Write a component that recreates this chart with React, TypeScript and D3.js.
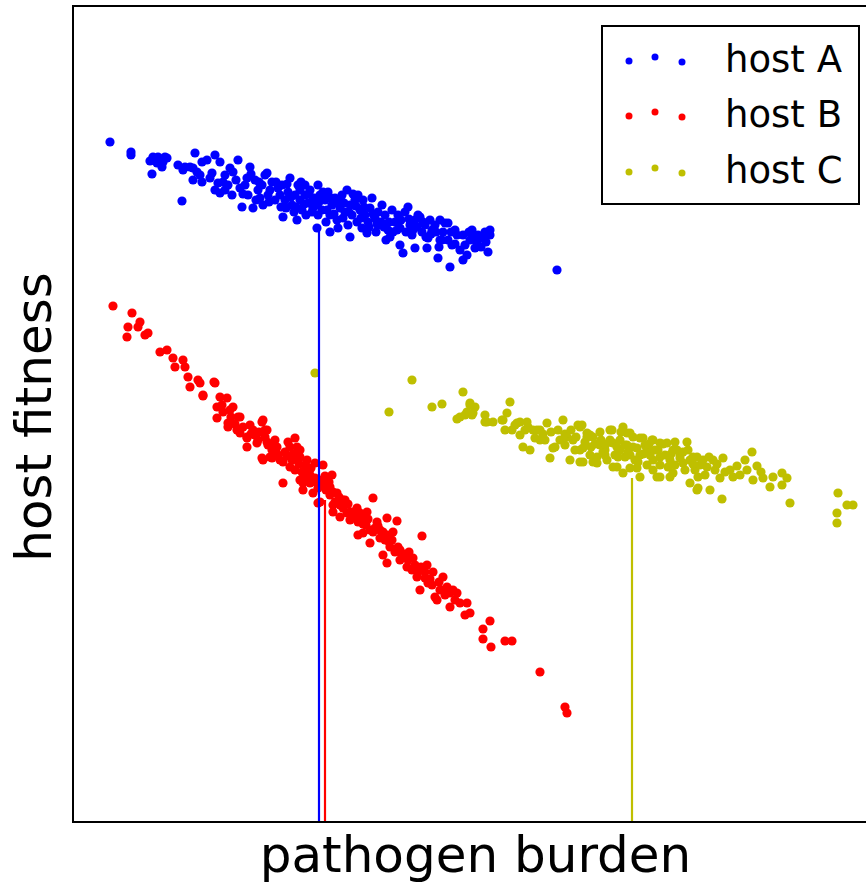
import React from "react";
import * as d3 from "d3";

// pathogen burden (arbitrary units), host fitness (arbitrary units)
const hostA: [number, number][] = [
  [37,680],[58,670],[58,667],[79,648],[80,665],[82,662],[85,665],[87,663],[92,665],[94,664],[84,659],[89,655],[77,661],[90,660],
  [105,657],[110,652],[112,655],[117,655],[120,654],[122,669],[109,621],[120,642],[124,650],[127,647],
  [129,660],[134,662],[142,667],[147,660],[129,640],[139,649],[142,632],[147,629],[137,644],[152,647],[157,654],[165,662],[155,637],[159,627],[163,642],[152,632],[167,634],[145,639],
  [169,615],[172,637],[177,655],[175,627],[180,614],[182,642],[185,632],[187,624],[189,637],[192,647],[194,649],[195,627],[197,632],[199,640],[202,622],[205,634],[207,627],[183,622],[190,617],[174,644],
  [210,605],[209,637],[212,622],[215,630],[217,644],[219,617],[222,627],[224,602],[225,637],[227,622],[229,612],[232,637],[232,627],[235,619],[237,632],[239,610],[241,624],[243,617],[244,594],[245,637],[245,607],[247,627],[213,614],[221,610],[227,632],[233,607],[238,620],
  [249,612],[252,622],[255,630],[257,590],[257,607],[259,617],[262,624],[264,602],[267,614],[269,627],[272,610],[274,632],[275,597],[277,585],[277,617],[279,607],[282,622],[284,600],[287,612],[253,600],[265,594],[271,619],[285,627],
  [290,622],[292,607],[294,589],[295,600],[297,614],[299,624],[302,604],[305,610],[307,597],[309,617],[312,607],[315,592],[317,585],[319,612],[322,600],[325,607],[327,577],[327,594],[330,569],[289,594],[303,590],[313,582],
  [332,610],[335,615],[337,597],[339,587],[342,574],[342,602],[345,607],[347,605],[349,590],[352,597],[354,574],[355,584],[357,602],[359,592],[362,597],[365,564],[367,602],[367,582],[333,590],
  [369,582],[372,599],[375,599],[375,582],[377,555],[379,577],[382,592],[384,587],[387,572],[390,587],[390,562],[394,567],[397,582],[399,592],[399,585],[402,574],[405,587],[410,584],[412,590],[415,570],[417,592],[417,587],
  [150,640],[160,650],[170,628],[178,648],[186,640],[196,620],[203,640],[208,615],[214,638],[218,625],[223,615],[228,640],[231,618],[236,628],[240,614],[246,620],[250,630],[254,612],[258,624],[261,608],[266,620],[270,604],[276,610],[280,628],[283,616],[288,604],[291,615],[296,595],[300,608],[304,598],[308,600],[311,595],[316,600],[320,590],[324,592],[328,602],[336,603],[340,592],[344,595],[350,600],[353,585],[358,588],[363,590],[366,575],[370,590],[378,590],[382,578],[392,577],[396,590],[404,580],[408,575],[413,580],
  [484,552],
];

const hostB: [number, number][] = [
  [40,516],[59,509],[67,500],[65,495],[55,495],[54,485],[72,487],[75,489],[87,470],[94,472],[100,464],[102,455],[110,462],[112,455],
  [115,445],[117,435],[125,442],[130,426],[141,440],[127,439],[142,439],[130,427],[147,425],[154,424],[144,415],[149,417],[157,412],[165,405],[144,404],[155,395],[155,399],[160,415],[167,405],
  [164,392],[174,385],[174,375],[184,379],[190,402],[194,392],[202,382],[190,362],[199,364],[210,339],[217,375],[222,384],[225,365],[234,345],[230,332],
  [167,389],[174,384],[180,392],[189,400],[192,392],[194,380],[189,364],[197,365],[204,375],[215,380],[224,375],[210,360],[217,355],[227,365],[234,352],[227,342],[237,339],[240,329],[245,319],
  [250,357],[259,347],[255,335],[264,329],[270,322],[260,317],[274,309],[284,314],[290,305],[300,324],[304,300],[314,304],[290,289],[309,285],
  [227,372],[234,362],[242,359],[230,339],[247,320],[257,335],[272,322],[260,310],[267,305],[277,302],[287,309],[294,310],[324,301],[285,287],[297,279],[307,284],[314,287],[317,275],[310,267],[314,259],[327,272],[327,262],[334,255],[340,264],[349,286],
  [344,245],[347,232],[354,257],[360,250],[355,239],[362,225],[364,222],[370,245],[374,235],[377,229],[377,215],[384,229],[387,219],[394,219],[392,207],[397,209],
  [417,201],[410,193],[410,183],[418,175],[432,181],[439,181],[467,150],[492,115],[494,109],
  [177,397],[182,387],[185,382],[195,377],[199,372],[205,367],[212,370],[219,362],[222,352],[229,350],[232,357],[237,347],[242,344],[245,334],[249,342],[253,332],[257,327],[262,320],[267,317],[277,310],[282,304],[293,297],[297,292],[302,294],[307,292],[312,282],[319,282],[322,270],[329,267],[335,262],[339,252],[345,250],[352,244],[359,237],[367,232],[372,227],[382,222],
  [150,410],[158,405],[162,398],[170,395],[178,388],[186,390],[192,385],[198,378],[203,370],[207,362],[214,366],[220,368],[226,358],[232,348],[238,354],[243,340],[248,338],[252,346],[256,340],[260,330],[266,325],[270,314],[275,318],[280,310],[285,300],[290,298],[295,303],[300,290],[305,296],[310,290],[316,280],[320,290],[325,275],[331,268],[336,270],[342,257],[348,255],[352,250],[357,243],[366,240],[370,232],[380,232],
];

const hostC: [number, number][] = [
  [242,449],[339,442],[316,410],[359,415],[369,418],[390,430],[397,419],[402,415],[394,410],[387,405],[384,403],[399,407],[412,407],[420,400],[414,400],[430,402],[437,420],[434,409],[444,399],[454,400],[460,392],[467,392],[450,375],[457,372],[477,364],[480,374],[490,402],[494,385],[500,382],[507,395],[514,389],[520,385],[497,362],[507,360],[520,360],
  [392,407],[397,417],[400,409],[412,400],[429,402],[432,392],[439,392],[447,400],[452,392],[464,392],[467,382],[474,399],[482,375],[487,382],[505,397],[507,372],[514,385],[527,390],[532,372],[537,392],[540,379],[534,362],[524,365],
  [550,395],[547,382],[554,389],[560,375],[552,365],[544,355],[557,354],[567,384],[574,372],[580,382],[587,365],[594,379],[600,372],[614,380],[620,365],[567,345],[580,352],[587,345],[600,349],[610,359],[617,339],[624,332],
  [509,397],[517,387],[539,392],[557,389],[510,374],[530,370],[544,375],[554,377],[564,374],[570,384],[579,382],[587,379],[602,380],[510,360],[524,359],[540,355],[550,349],[564,354],[574,357],[584,345],[597,345],[607,364],[625,334],[637,332],[624,365],[634,355],[640,362],[650,364],[657,352],[667,347],[674,352],[680,342],[679,370],[684,356],[690,344],[697,335],[709,349],[714,344],[709,337],[717,319],[649,323],
  [765,329],[774,317],[780,317],[764,309],[764,299],
  [527,377],[532,367],[537,382],[542,367],[547,372],[552,377],[557,367],[562,362],[567,367],[572,377],[577,367],[582,372],[587,357],[592,367],[597,362],[602,357],[607,367],[612,352],[617,362],[622,352],[627,357],[632,347],[642,352],[647,344],[517,367],[502,372],[492,377],[472,382],[462,384],[447,387],[442,397],
  [455,395],[470,388],[478,390],[485,392],[492,388],[498,392],[503,385],[512,380],[518,375],[522,378],[528,382],[533,378],[545,365],[548,390],[555,370],[560,385],[565,360],[570,368],[576,378],[580,362],[585,372],[590,378],[595,355],[598,368],[604,372],[610,370],[615,372],[620,358],[625,345],[630,362],[636,365],[644,358],[652,350],[660,345],[664,356],[672,362],[688,350],[700,345],
];

const seriesNames = ["host A", "host B", "host C"];
const seriesColors = ["#0000ff", "#ff0000", "#bfbf00"];
const seriesData = [hostA, hostB, hostC];
// mean burden and mean fitness marker lines
const meanBurden = [246, 252, 559];
const meanFitness = [592, 322, 344];

const W = 866;
const H = 884;
const left = 73, right = 878, top = 6, bottom = 822;

export default function App() {
  const x = d3.scaleLinear().domain([0, 805]).range([left, right]);
  const y = d3.scaleLinear().domain([0, 816]).range([bottom, top]);
  const font = "'DejaVu Sans', sans-serif";
  const legendRows = [61, 116, 172];
  const legendDotDx = [0, 26, 53];
  const legendDotDy = [0, -4, 1];
  return (
    <svg width={W} height={H} style={{ position: "absolute", left: 0, top: 0, background: "#fff" }}>
      <rect x={0} y={0} width={W} height={H} fill="#fff" />
      <g>
        {seriesData.map((data, si) =>
          data.map((d, i) => (
            <circle key={`${si}-${i}`} cx={x(d[0])} cy={y(d[1])} r={4.6} fill={seriesColors[si]} />
          ))
        )}
      </g>
      <g>
        {meanBurden.map((b, i) => (
          <line key={i} x1={x(b)} x2={x(b)} y1={y(meanFitness[i])} y2={y(0)} stroke={seriesColors[i]} strokeWidth={2.2} />
        ))}
      </g>
      <rect x={left} y={top} width={right - left} height={bottom - top} fill="none" stroke="#000" strokeWidth={2} />
      <text x={(left + right) / 2} y={872} textAnchor="middle" fontFamily={font} fontSize={50} fill="#000">pathogen burden</text>
      <text transform={`translate(51, ${(top + bottom) / 2 + 3}) rotate(-90)`} textAnchor="middle" fontFamily={font} fontSize={50} fill="#000">host fitness</text>
      <g>
        <rect x={602} y={26} width={257} height={178} fill="#fff" stroke="#000" strokeWidth={2} />
        {seriesNames.map((name, i) => (
          <g key={name}>
            {legendDotDx.map((dx, j) => (
              <circle key={j} cx={629 + dx} cy={legendRows[i] + legendDotDy[j]} r={3.5} fill={seriesColors[i]} />
            ))}
            <text x={725} y={legendRows[i] + 11} fontFamily={font} fontSize={37} fill="#000">{name}</text>
          </g>
        ))}
      </g>
    </svg>
  );
}
